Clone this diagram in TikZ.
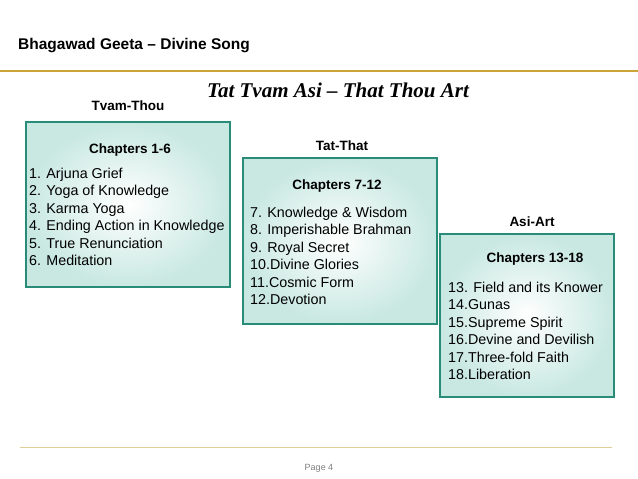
\documentclass[tikz,border=0pt]{standalone}
\usepackage{fontspec}
\setmainfont{Liberation Sans}
\newfontfamily\titlefont{Liberation Serif}
\definecolor{gold}{RGB}{205,165,55}
\definecolor{paleg}{RGB}{225,205,150}
\definecolor{bord}{RGB}{40,140,120}
\definecolor{fillc}{RGB}{200,232,225}
\begin{document}
\begin{tikzpicture}[x=1pt,y=-1pt,
  box/.style={draw=bord,line width=1.3pt,inner color=white,outer color=fillc},
  lbl/.style={font=\bfseries\fontsize{13.5}{15}\selectfont},
  item/.style={anchor=north west,align=left,font=\fontsize{14.3}{17.4}\selectfont,inner sep=0}]
\useasboundingbox (0,0) rectangle (638,479);
\node[anchor=west,inner sep=0,font=\bfseries\fontsize{15.5}{17}\selectfont] (hdr) at (18,46) {Bhagawad Geeta \textendash{} Divine Song};
\draw[draw=gold,line width=1.8pt] (0,71) coordinate (l1) -- (638,71) coordinate (l2);
\node[font=\titlefont\bfseries\itshape\fontsize{21}{24}\selectfont] (title) at (338,90) {Tat Tvam Asi \textendash{} That Thou Art};
\node[lbl] (t1) at (128,106) {Tvam-Thou};
\node[lbl] (t2) at (342,146) {Tat-That};
\node[lbl] (t3) at (532,222) {Asi-Art};
\path[box] (26,122) rectangle (230,287);
\path[box] (243,158) rectangle (437,324);
\path[box] (440,234) rectangle (614,397);
\node[lbl] (c1) at (130,150) {Chapters 1-6};
\node[lbl] (c2) at (337,186) {Chapters 7-12};
\node[lbl] (c3) at (535,259) {Chapters 13-18};
\node[item] (i1) at (29,168) {1. Arjuna Grief\\2. Yoga of Knowledge\\3. Karma Yoga\\4. Ending Action in Knowledge\\5. True Renunciation\\6. Meditation};
\node[item] (i2) at (250,207) {7. Knowledge \& Wisdom\\8. Imperishable Brahman\\9. Royal Secret\\10.Divine Glories\\11.Cosmic Form\\12.Devotion};
\node[item] (i3) at (448,282) {13. Field and its Knower\\14.Gunas\\15.Supreme Spirit\\16.Devine and Devilish\\17.Three-fold Faith\\18.Liberation};
\draw[draw=paleg,line width=1pt] (20,447) coordinate (b1) -- (612,447) coordinate (b2);
\node[font=\fontsize{9}{10}\selectfont,text=gray] (pg) at (319,468) {Page 4};
\end{tikzpicture}
\end{document}
